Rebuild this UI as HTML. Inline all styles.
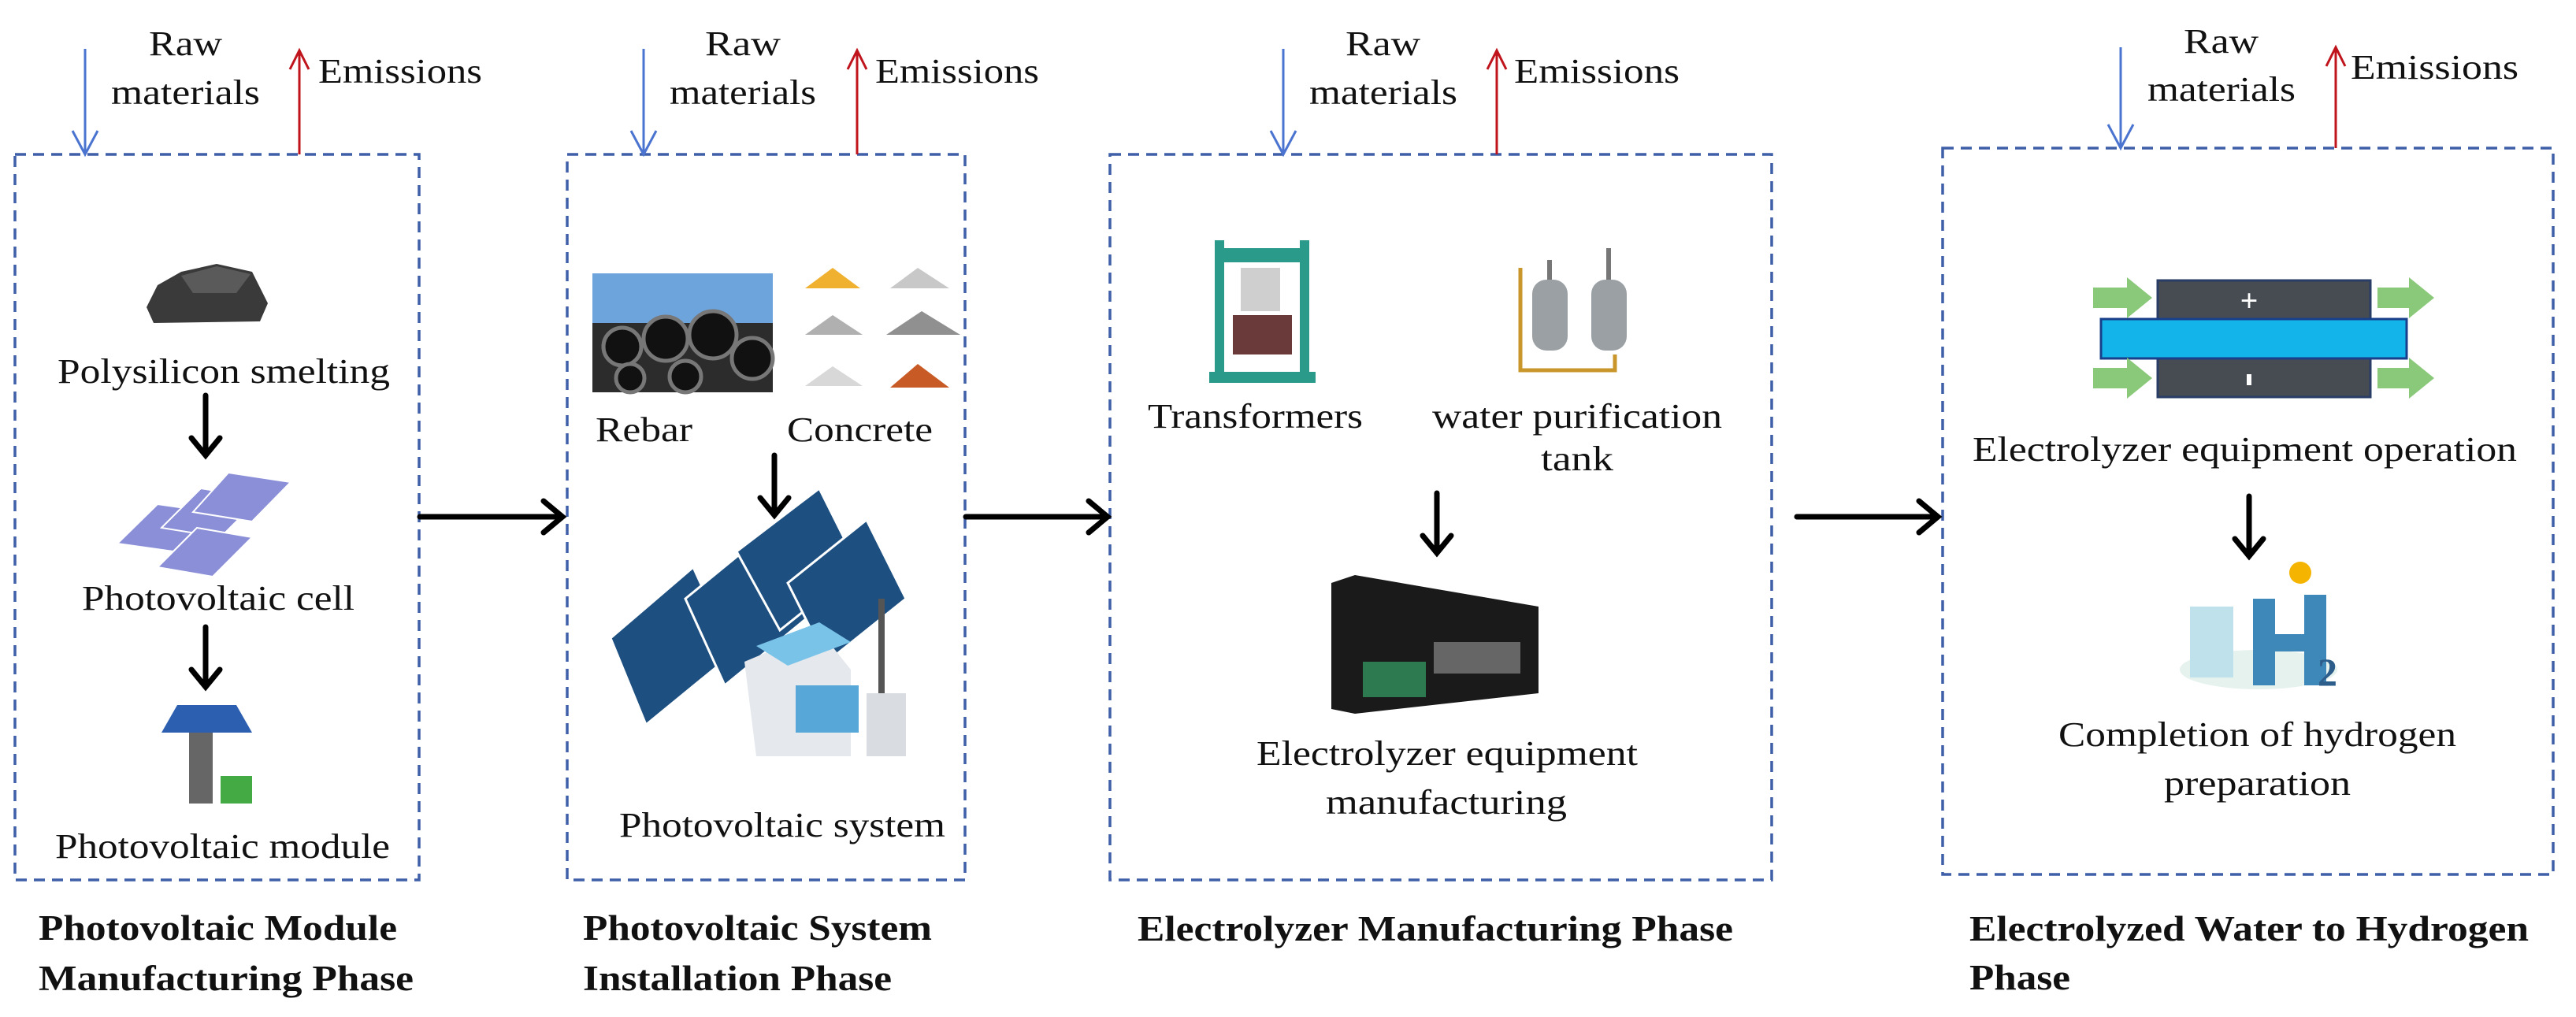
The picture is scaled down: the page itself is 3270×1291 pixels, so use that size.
<!DOCTYPE html>
<html><head><meta charset="utf-8"><style>
html,body{margin:0;padding:0;background:#fff;}
svg{display:block;}
text{font-family:"Liberation Serif",serif;fill:#111;}
.t{font-size:44px;}
.b{font-size:45px;font-weight:bold;}
</style></head><body>
<svg width="3270" height="1291" viewBox="0 0 3270 1291" xmlns="http://www.w3.org/2000/svg">
<defs>
<marker id="bh" markerWidth="10" markerHeight="10" refX="9" refY="5" orient="auto" markerUnits="userSpaceOnUse"></marker>
</defs>
<g fill="none" stroke="#3f5fa8" stroke-width="3.5" stroke-dasharray="14,9">
<rect x="19" y="196" width="513" height="921"/>
<rect x="720" y="196" width="505" height="921"/>
<rect x="1409" y="196" width="840" height="921"/>
<rect x="2466" y="188" width="775" height="922"/>
</g>
<!-- raw/emission arrows -->
<g stroke-width="3" fill="none">
<g stroke="#4a74d0"><line x1="108" y1="62" x2="108" y2="194"/><polyline points="92,166 108,196 124,166"/>
<line x1="817" y1="62" x2="817" y2="194"/><polyline points="801,166 817,196 833,166"/>
<line x1="1629" y1="62" x2="1629" y2="194"/><polyline points="1613,166 1629,196 1645,166"/>
<line x1="2692" y1="60" x2="2692" y2="186"/><polyline points="2676,158 2692,188 2708,158"/></g>
<g stroke="#c0141c"><line x1="380" y1="196" x2="380" y2="66"/><polyline points="368,88 380,64 392,88"/>
<line x1="1088" y1="196" x2="1088" y2="66"/><polyline points="1076,88 1088,64 1100,88"/>
<line x1="1900" y1="196" x2="1900" y2="66"/><polyline points="1888,88 1900,64 1912,88"/>
<line x1="2965" y1="188" x2="2965" y2="62"/><polyline points="2953,84 2965,60 2977,84"/></g>
</g>
<g class="t">
<text x="189" y="70" textLength="93" lengthAdjust="spacingAndGlyphs">Raw</text>
<text x="141" y="132" textLength="189" lengthAdjust="spacingAndGlyphs">materials</text>
<text x="404" y="105" textLength="208" lengthAdjust="spacingAndGlyphs">Emissions</text>
<text x="895" y="70" textLength="96" lengthAdjust="spacingAndGlyphs">Raw</text>
<text x="850" y="132" textLength="186" lengthAdjust="spacingAndGlyphs">materials</text>
<text x="1111" y="105" textLength="208" lengthAdjust="spacingAndGlyphs">Emissions</text>
<text x="1708" y="70" textLength="95" lengthAdjust="spacingAndGlyphs">Raw</text>
<text x="1662" y="132" textLength="188" lengthAdjust="spacingAndGlyphs">materials</text>
<text x="1922" y="105" textLength="210" lengthAdjust="spacingAndGlyphs">Emissions</text>
<text x="2772" y="67" textLength="95" lengthAdjust="spacingAndGlyphs">Raw</text>
<text x="2726" y="128" textLength="188" lengthAdjust="spacingAndGlyphs">materials</text>
<text x="2984" y="100" textLength="213" lengthAdjust="spacingAndGlyphs">Emissions</text>
<text x="73" y="486" textLength="422" lengthAdjust="spacingAndGlyphs">Polysilicon smelting</text>
<text x="104" y="774" textLength="346" lengthAdjust="spacingAndGlyphs">Photovoltaic cell</text>
<text x="70" y="1089" textLength="425" lengthAdjust="spacingAndGlyphs">Photovoltaic module</text>
<text x="756" y="560" textLength="123" lengthAdjust="spacingAndGlyphs">Rebar</text>
<text x="999" y="560" textLength="185" lengthAdjust="spacingAndGlyphs">Concrete</text>
<text x="786" y="1062" textLength="414" lengthAdjust="spacingAndGlyphs">Photovoltaic system</text>
<text x="1457" y="543" textLength="273" lengthAdjust="spacingAndGlyphs">Transformers</text>
<text x="1818" y="543" textLength="368" lengthAdjust="spacingAndGlyphs">water purification</text>
<text x="1956" y="597" textLength="92" lengthAdjust="spacingAndGlyphs">tank</text>
<text x="1595" y="971" textLength="484" lengthAdjust="spacingAndGlyphs">Electrolyzer equipment</text>
<text x="1683" y="1033" textLength="306" lengthAdjust="spacingAndGlyphs">manufacturing</text>
<text x="2504" y="585" textLength="691" lengthAdjust="spacingAndGlyphs">Electrolyzer equipment operation</text>
<text x="2613" y="947" textLength="505" lengthAdjust="spacingAndGlyphs">Completion of hydrogen</text>
<text x="2747" y="1009" textLength="237" lengthAdjust="spacingAndGlyphs">preparation</text>
</g>
<g class="b">
<text x="49" y="1193" textLength="455" lengthAdjust="spacingAndGlyphs">Photovoltaic Module</text>
<text x="49" y="1257" textLength="476" lengthAdjust="spacingAndGlyphs">Manufacturing Phase</text>
<text x="740" y="1193" textLength="443" lengthAdjust="spacingAndGlyphs">Photovoltaic System</text>
<text x="740" y="1257" textLength="392" lengthAdjust="spacingAndGlyphs">Installation Phase</text>
<text x="1444" y="1194" textLength="756" lengthAdjust="spacingAndGlyphs">Electrolyzer Manufacturing Phase</text>
<text x="2500" y="1194" textLength="710" lengthAdjust="spacingAndGlyphs">Electrolyzed Water to Hydrogen</text>
<text x="2500" y="1256" textLength="128" lengthAdjust="spacingAndGlyphs">Phase</text>
</g>
<!-- black arrows -->
<g stroke="#000" stroke-width="7" fill="none" stroke-linecap="round">
<line x1="533" y1="656" x2="712" y2="656"/><polyline points="690,636 714,656 690,676"/>
<line x1="1226" y1="656" x2="1404" y2="656"/><polyline points="1382,636 1406,656 1382,676"/>
<line x1="2281" y1="656" x2="2458" y2="656"/><polyline points="2436,636 2460,656 2436,676"/>
<line x1="261" y1="502" x2="261" y2="576"/><polyline points="243,556 261,578 279,556"/>
<line x1="261" y1="796" x2="261" y2="870"/><polyline points="243,850 261,872 279,850"/>
<line x1="983" y1="578" x2="983" y2="652"/><polyline points="965,632 983,654 1001,632"/>
<line x1="1824" y1="626" x2="1824" y2="700"/><polyline points="1806,680 1824,702 1842,680"/>
<line x1="2855" y1="630" x2="2855" y2="704"/><polyline points="2837,684 2855,706 2873,684"/>
</g>
<!-- polysilicon -->
<polygon points="186,390 200,362 230,345 275,335 320,345 340,385 330,408 195,410" fill="#3a3a3a"/>
<polygon points="230,350 275,338 318,348 300,372 245,372" fill="#5a5a5a"/>
<!-- PV cells -->
<g fill="#8a8fd8" stroke="#fff" stroke-width="2">
<polygon points="149,690 200,640 270,650 220,700"/>
<polygon points="205,670 255,620 330,632 280,682"/>
<polygon points="245,650 290,600 369,612 320,662"/>
<polygon points="200,720 250,670 320,682 270,732"/>
</g>
<!-- module -->
<polygon points="205,930 225,895 300,895 320,930" fill="#2d5fb0"/>
<rect x="240" y="930" width="30" height="90" fill="#666"/>
<rect x="280" y="985" width="40" height="35" fill="#4a4" />
<!-- rebar photo -->
<rect x="752" y="347" width="229" height="151" fill="#6ea4dc"/>
<rect x="752" y="410" width="229" height="88" fill="#2c2c2c"/>
<g fill="#111" stroke="#777" stroke-width="5"><circle cx="790" cy="440" r="24"/><circle cx="845" cy="430" r="28"/><circle cx="905" cy="425" r="30"/><circle cx="955" cy="455" r="26"/><circle cx="800" cy="480" r="18"/><circle cx="870" cy="478" r="20"/></g>
<!-- concrete piles -->
<g><polygon points="1022,366 1057,340 1092,366" fill="#f0b030"/>
<polygon points="1130,366 1165,340 1205,366" fill="#c8c8c8"/>
<polygon points="1022,425 1057,400 1095,425" fill="#b0b0b0"/>
<polygon points="1125,425 1170,395 1219,425" fill="#909090"/>
<polygon points="1022,490 1057,465 1095,490" fill="#d8d8d8"/>
<polygon points="1130,492 1165,462 1205,492" fill="#c85a25"/></g>
<!-- PV system -->
<g fill="#1d4f80" stroke="#fff" stroke-width="3">
<polygon points="775,810 880,720 930,830 820,920"/>
<polygon points="870,760 980,670 1030,780 920,870"/>
<polygon points="935,700 1040,620 1090,720 990,800"/>
<polygon points="1000,740 1100,660 1150,760 1050,840"/>
</g>
<polygon points="945,840 1040,800 1080,850 1080,960 960,960" fill="#e5e8ec"/>
<rect x="1010" y="870" width="80" height="60" fill="#57a7d8"/>
<polygon points="960,820 1040,790 1080,815 1000,845" fill="#7ac3e8"/>
<rect x="1100" y="880" width="50" height="80" fill="#d9dde2"/>
<rect x="1115" y="760" width="8" height="120" fill="#555"/>
<!-- transformers -->
<g fill="#2a9a8a"><rect x="1542" y="305" width="12" height="180"/><rect x="1650" y="305" width="12" height="180"/><rect x="1542" y="315" width="120" height="18"/><rect x="1535" y="472" width="135" height="14"/></g>
<rect x="1565" y="400" width="75" height="50" fill="#6a3a3a"/>
<rect x="1575" y="340" width="50" height="55" fill="#cfcfcf"/>
<!-- water tank -->
<g fill="#9aa0a4"><rect x="1945" y="355" width="45" height="90" rx="18"/><rect x="2020" y="355" width="45" height="90" rx="18"/></g>
<path d="M1930,340 L1930,470 L2050,470 L2050,450" stroke="#c8962a" stroke-width="5" fill="none"/>
<path d="M1967,330 v25 M2042,315 v40" stroke="#777" stroke-width="6"/>
<!-- container -->
<polygon points="1690,740 1720,730 1953,770 1953,880 1720,906 1690,900" fill="#1a1a1a"/>
<rect x="1730" y="840" width="80" height="45" fill="#2e7a50"/>
<rect x="1820" y="815" width="110" height="40" fill="#666"/>
<!-- electrolyzer operation -->
<rect x="2739" y="356" width="270" height="148" fill="#474c52" stroke="#2a3d66" stroke-width="3"/>
<rect x="2667" y="405" width="388" height="50" fill="#12b4ea" stroke="#1a3f8a" stroke-width="3"/>
<text x="2855" y="395" style="font-size:40px;font-weight:bold;fill:#fff" text-anchor="middle">+</text>
<rect x="2852" y="475" width="6" height="14" fill="#fff"/>
<g fill="#8bc97a">
<polygon points="2657,365 2700,365 2700,352 2732,378 2700,404 2700,391 2657,391"/>
<polygon points="2657,467 2700,467 2700,454 2732,480 2700,506 2700,493 2657,493"/>
<polygon points="3018,365 3058,365 3058,352 3090,378 3058,404 3058,391 3018,391"/>
<polygon points="3018,467 3058,467 3058,454 3090,480 3058,506 3058,493 3018,493"/>
</g>
<!-- H2 -->
<ellipse cx="2867" cy="850" rx="100" ry="25" fill="#e6f2ee"/>
<g fill="#3d88b8"><rect x="2860" y="760" width="28" height="110"/><rect x="2925" y="755" width="28" height="115"/><rect x="2860" y="805" width="93" height="22"/></g>
<rect x="2780" y="770" width="55" height="90" fill="#bfe1ec"/>
<circle cx="2920" cy="727" r="14" fill="#f4b400"/>
<text x="2942" y="870" style="font-size:50px;font-weight:bold;fill:#2d5d8a">2</text>
</svg>
</body></html>
